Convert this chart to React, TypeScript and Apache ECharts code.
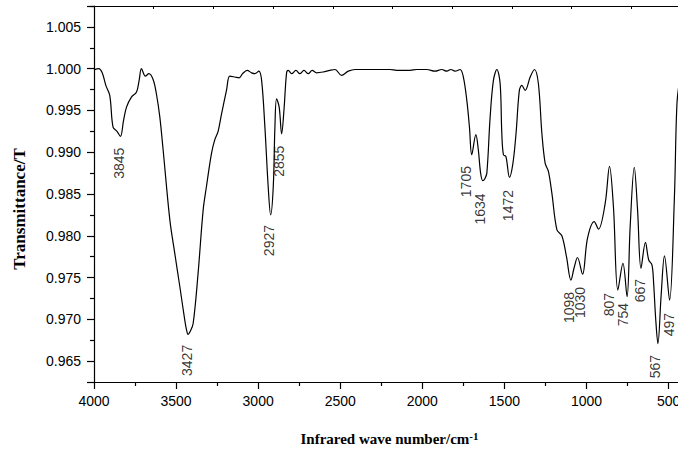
import React, { useEffect, useRef } from "react";
import * as echarts from "echarts";

// Spectrum: wavenumber (cm-1) and transmittance
const waveNumbers = [
  4000, 3971, 3950, 3928, 3904, 3884, 3860, 3839, 3820, 3802, 3772, 3741, 3725, 3711, 3687, 3666, 3640, 3620,
  3599, 3579, 3538, 3508, 3477, 3447, 3437, 3427, 3415, 3396, 3366, 3335, 3315, 3284, 3264, 3244, 3223, 3193,
  3173, 3142, 3116, 3095, 3067, 3040, 3020, 2996, 2979, 2959, 2939, 2924, 2908, 2898, 2888, 2872, 2857, 2843,
  2827, 2817, 2796, 2770, 2746, 2721, 2695, 2671, 2644, 2604, 2563, 2532, 2492, 2451, 2410, 2197, 2156, 2075,
  2034, 1973, 1923, 1882, 1851, 1826, 1801, 1770, 1750, 1729, 1713, 1699, 1674, 1659, 1645, 1632, 1620, 1607,
  1587, 1567, 1546, 1526, 1516, 1506, 1491, 1469, 1448, 1429, 1409, 1394, 1374, 1343, 1317, 1293, 1272, 1252,
  1232, 1211, 1180, 1150, 1122, 1095, 1075, 1055, 1024, 994, 953, 927, 886, 860, 836, 809, 778, 753, 734, 709,
  689, 668, 641, 621, 601, 591, 578, 565, 545, 525, 494, 465, 449, 430,
];
const transmittance = [
  0.99985, 1.0, 0.9995, 0.998, 0.9968, 0.993, 0.9925, 0.9919, 0.9938, 0.9954, 0.9966, 0.9972, 0.9986, 1.0, 0.9991,
  0.9994, 0.9987, 0.997, 0.9942, 0.9903, 0.9819, 0.9779, 0.9739, 0.9699, 0.9688, 0.9682, 0.9685, 0.9695, 0.9755,
  0.9831, 0.9859, 0.9899, 0.9915, 0.9925, 0.9946, 0.9974, 0.9991, 0.999, 0.9989, 0.9994, 0.9998, 0.9995, 0.9994,
  0.9997, 0.9986, 0.993, 0.9859, 0.9825, 0.9859, 0.993, 0.9964, 0.9954, 0.9922, 0.995, 0.9995, 0.9998, 0.9994,
  0.9998, 0.9994, 0.9998, 0.9994, 0.9998, 0.9995, 0.9996, 0.9998, 0.9999, 0.9992, 0.9997, 0.9999, 0.9999, 0.9998,
  0.9998, 0.9999, 0.9999, 0.9997, 0.9999, 0.9997, 0.9999, 0.9997, 0.9999, 0.999, 0.9962, 0.993, 0.9897, 0.9921,
  0.9903, 0.9875, 0.9866, 0.9868, 0.9875, 0.9942, 0.9986, 0.9999, 0.9982, 0.9923, 0.9897, 0.9895, 0.987, 0.9887,
  0.9923, 0.9974, 0.998, 0.9974, 0.999, 0.9999, 0.9982, 0.9923, 0.9887, 0.9877, 0.9851, 0.9807, 0.98, 0.9775,
  0.9747, 0.9762, 0.9774, 0.9754, 0.9797, 0.9817, 0.9808, 0.9839, 0.9883, 0.9835, 0.9735, 0.9767, 0.9727, 0.9811,
  0.9882, 0.9831, 0.9761, 0.9792, 0.9771, 0.9765, 0.9743, 0.9699, 0.9671, 0.973, 0.9776, 0.9723, 0.9843, 0.9958,
  0.999,
];

// Peak annotations: text, wavenumber where the label sits, transmittance at label top
const peakTexts = ["3845", "3427", "2927", "2855", "1705", "1634", "1472", "1098", "1030", "807", "754", "667", "567", "497"];
const peakLabelX = [3846, 3433, 2935, 2874, 1735, 1651, 1477, 1105, 1038, 863, 775, 677, 581, 500];
const peakLabelY = [0.99054, 0.96695, 0.98129, 0.99078, 0.98835, 0.98508, 0.98548, 0.97328, 0.97388, 0.97316, 0.97197, 0.97484, 0.96575, 0.97077];

const xTitle = "Infrared wave number/cm";
const xTitleSup = "-1";
const yTitle = "Transmittance/T";

export default function App() {
  const ref = useRef<HTMLDivElement>(null);

  useEffect(() => {
    if (!ref.current) return;
    const chart = echarts.init(ref.current, null, { renderer: "svg" });
    const sans = "Liberation Sans, Arial, sans-serif";
    const serif = "Liberation Serif, Times New Roman, serif";
    const lineData = waveNumbers.map((w, i) => [w, transmittance[i]]);
    const labelData = peakTexts.map((t, i) => [peakLabelX[i], peakLabelY[i], t]);

    chart.setOption({
      animation: false,
      backgroundColor: "#ffffff",
      grid: { left: 94, top: 6, width: 591, height: 376, outerBoundsMode: "none", containLabel: false },
      xAxis: [
        {
          type: "value",
          inverse: true,
          min: 400,
          max: 4000,
          splitNumber: 7,
          name: `{a|${xTitle}}{b|${xTitleSup}}`,
          nameLocation: "middle",
          nameGap: 48,
          nameTextStyle: {
            color: "#000",
            rich: {
              a: { fontFamily: serif, fontWeight: "bold", fontSize: 15, color: "#000", lineHeight: 18 },
              b: { fontFamily: serif, fontWeight: "bold", fontSize: 11, color: "#000", verticalAlign: "top", lineHeight: 12 },
            },
          },
          axisLine: { show: true, lineStyle: { color: "#000", width: 1.2 } },
          axisTick: { show: true, length: 7, inside: false, lineStyle: { color: "#000", width: 1.2 } },
          minorTick: { show: true, splitNumber: 2, length: 4, lineStyle: { color: "#000", width: 1.2 } },
          axisLabel: {
            color: "#000",
            fontFamily: sans,
            fontSize: 14,
            margin: 12,
            showMinLabel: false,
            formatter: (v: number) => String(v),
          },
          splitLine: { show: false },
        },
        {
          type: "value",
          position: "top",
          min: 0,
          max: 9.9,
          interval: 1,
          axisLine: { show: true, lineStyle: { color: "#000", width: 1.2 } },
          axisTick: { show: true, inside: true, length: 3, lineStyle: { color: "#000", width: 1 } },
          axisLabel: { show: false },
          splitLine: { show: false },
        },
      ],
      yAxis: {
        type: "value",
        min: 0.9625,
        max: 1.0075,
        splitNumber: 9,
        name: yTitle,
        nameLocation: "middle",
        nameRotate: 90,
        nameGap: 66,
        nameTextStyle: { fontFamily: serif, fontWeight: "bold", fontSize: 17, color: "#000", padding: [0, 30, 0, 0] },
        axisLine: { show: true, lineStyle: { color: "#000", width: 1.2 } },
        axisTick: { show: true, length: 7, inside: false, lineStyle: { color: "#000", width: 1.2 } },
        minorTick: { show: true, splitNumber: 2, length: 4, lineStyle: { color: "#000", width: 1.2 } },
        axisLabel: {
          color: "#000",
          fontFamily: sans,
          fontSize: 14,
          margin: 13,
          showMinLabel: false,
          showMaxLabel: false,
          formatter: (v: number) => v.toFixed(3),
        },
        splitLine: { show: false },
      },
      series: [
        {
          type: "line",
          data: lineData,
          smooth: 0.35,
          symbol: "none",
          clip: true,
          lineStyle: { color: "#000", width: 1.2 },
        },
        {
          type: "scatter",
          data: labelData,
          symbolSize: 0,
          silent: true,
          label: {
            show: true,
            formatter: (p: any) => p.data[2],
            position: [0, 0],
            rotate: 90,
            align: "right",
            verticalAlign: "middle",
            fontFamily: sans,
            fontSize: 14,
            color: "#000",
          },
        },
      ],
    });
    return () => chart.dispose();
  }, []);

  return <div ref={ref} style={{ position: "fixed", left: 0, top: 0, width: 678, height: 450 }} />;
}
